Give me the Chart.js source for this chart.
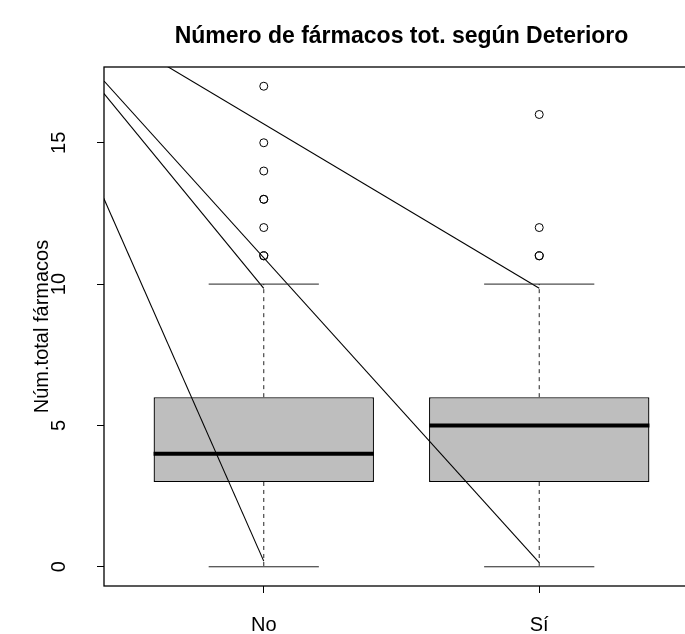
<!DOCTYPE html>
<html>
<head>
<meta charset="utf-8">
<script src="https://cdn.jsdelivr.net/npm/chart.js@4"></script>
<style>
  html, body { margin: 0; padding: 0; background: #fff; overflow: hidden; }
  canvas { display: block; }
</style>
</head>
<body>
<canvas id="c" width="802" height="634"></canvas>
<script>
// Groups and their box statistics
const categories = ['No', 'Sí'];
const q1 = [3, 3];
const q3 = [6, 6];
const medians = [4, 5];
const whiskerLow = [0, 0];
const whiskerHigh = [10, 10];
// Outlying observations per group (repeated values listed once per case)
const outliersNo = [11, 11, 12, 13, 13, 14, 15, 17];
const outliersSi = [11, 11, 12, 16];
const yTicks = [0, 5, 10, 15];
// Straight segments overlaid on the plot: start and end points
const segFromX = [0.35, 0.35, 0.35, 0.6];
const segFromY = [14.56, 17.57, 17.94, 17.99];
const segToX = [1, 1, 2, 2];
const segToY = [0.2, 9.85, 0.15, 9.85];

const FONT = '"Liberation Sans", Arial, Helvetica, sans-serif';
const BOX_HALF = 0.4;
const CAP_HALF = 0.2;
const outliers = [outliersNo, outliersSi];

const datasets = [];

// Boxes (Q1..Q3) as floating bars
datasets.push({
  type: 'bar',
  data: categories.map((c, i) => ({ x: i + 1, y: [q1[i], q3[i]] })),
  backgroundColor: '#bebebe',
  borderColor: '#000',
  borderWidth: 1.3,
  borderSkipped: false,
  barPercentage: 1,
  categoryPercentage: 0.8,
  order: 10
});

const seg = (pts, extra) => Object.assign({
  type: 'line',
  data: pts,
  borderColor: '#000',
  borderWidth: 1,
  pointRadius: 0,
  tension: 0,
  fill: false,
  clip: 0,
  order: 1
}, extra || {});

categories.forEach((c, i) => {
  const x = i + 1;
  // dashed whiskers
  datasets.push(seg([{ x, y: q3[i] }, { x, y: whiskerHigh[i] }], { borderDash: [4, 4], borderColor: '#222' }));
  datasets.push(seg([{ x, y: q1[i] }, { x, y: whiskerLow[i] }], { borderDash: [4, 4], borderColor: '#222' }));
  // whisker caps
  datasets.push(seg([{ x: x - CAP_HALF, y: whiskerHigh[i] }, { x: x + CAP_HALF, y: whiskerHigh[i] }], { borderColor: '#222' }));
  datasets.push(seg([{ x: x - CAP_HALF, y: whiskerLow[i] }, { x: x + CAP_HALF, y: whiskerLow[i] }], { borderColor: '#222' }));
  // median
  datasets.push(seg([{ x: x - BOX_HALF, y: medians[i] }, { x: x + BOX_HALF, y: medians[i] }], { borderWidth: 4, borderCapStyle: 'butt' }));
  // outliers
  datasets.push({
    type: 'line',
    showLine: false,
    data: outliers[i].map(v => ({ x, y: v })),
    pointRadius: 4,
    pointBorderWidth: 1,
    pointBorderColor: '#000',
    pointBackgroundColor: 'rgba(0,0,0,0)',
    order: 2
  });
});

// overlaid straight segments
segFromX.forEach((fx, k) => {
  datasets.push(seg([{ x: fx, y: segFromY[k] }, { x: segToX[k], y: segToY[k] }], { borderWidth: 1.1 }));
});

const frame = {
  id: 'frame',
  afterDatasetsDraw(chart) {
    const { ctx, chartArea: a } = chart;
    ctx.save();
    ctx.strokeStyle = '#000';
    ctx.lineWidth = 1.3;
    ctx.strokeRect(a.left, a.top, a.right - a.left, a.bottom - a.top);
    ctx.restore();
  }
};

const axisGrid = { drawOnChartArea: false, drawTicks: true, tickLength: 7, color: '#000', lineWidth: 1, offset: false };

new Chart(document.getElementById('c'), {
  type: 'bar',
  data: { datasets },
  plugins: [frame],
  options: {
    responsive: false,
    animation: false,
    events: [],
    layout: { padding: { left: 0, right: 103, top: 0, bottom: 0 } },
    plugins: {
      legend: { display: false },
      tooltip: { enabled: false },
      title: {
        display: true,
        fullSize: false,
        text: 'Número de fármacos tot. según Deterioro',
        color: '#000',
        font: { family: FONT, size: 23, weight: 'bold' },
        padding: { top: 23, bottom: 16.4 }
      }
    },
    scales: {
      x: {
        type: 'linear',
        min: 0.42,
        max: 2.58,
        offset: false,
        afterBuildTicks: s => { s.ticks = categories.map((c, i) => ({ value: i + 1 })); },
        afterFit: s => { s.height = 48; },
        grid: axisGrid,
        border: { display: false },
        ticks: {
          callback: v => categories[v - 1],
          color: '#000',
          font: { family: FONT, size: 20 },
          padding: 20,
          autoSkip: false,
          maxRotation: 0
        }
      },
      y: {
        type: 'linear',
        min: -0.68,
        max: 17.68,
        afterBuildTicks: s => { s.ticks = yTicks.map(v => ({ value: v })); },
        afterFit: s => { s.width = 104; },
        grid: axisGrid,
        border: { display: false },
        ticks: {
          callback: v => String(v),
          color: '#000',
          font: { family: FONT, size: 20 },
          minRotation: 90,
          maxRotation: 90,
          crossAlign: 'center',
          padding: 26
        },
        title: {
          display: true,
          text: 'Núm.total fármacos',
          color: '#000',
          font: { family: FONT, size: 20 },
          padding: { top: 30, bottom: 0 }
        }
      }
    }
  }
});
</script>
</body>
</html>
